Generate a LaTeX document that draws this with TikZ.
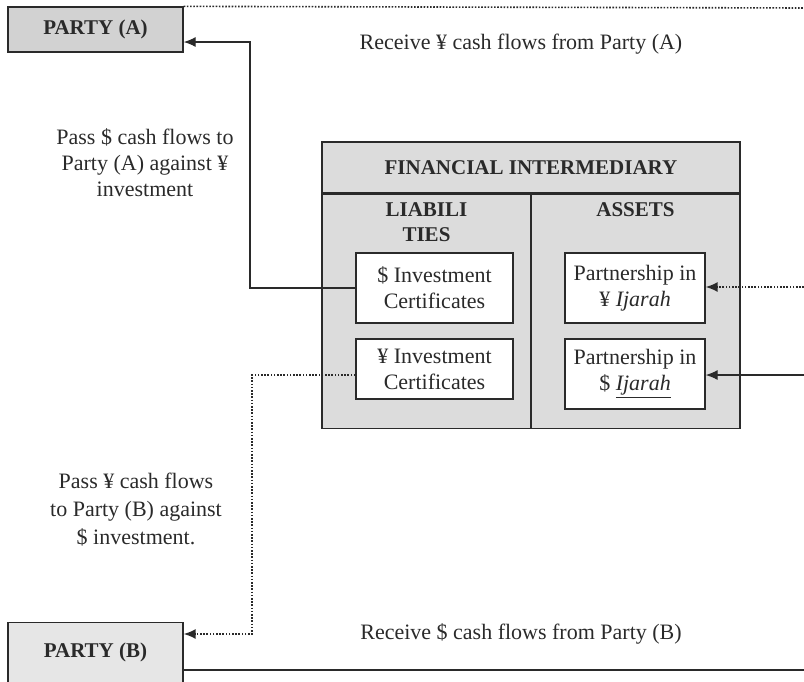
\documentclass[tikz,border=0pt]{standalone}
\usepackage{fontspec}
\setmainfont{Liberation Serif}
\usetikzlibrary{positioning,arrows.meta}
\definecolor{partyagray}{HTML}{D2D2D2}
\definecolor{partybgray}{HTML}{E6E6E6}
\definecolor{figray}{HTML}{DCDCDC}
\definecolor{linegray}{HTML}{2A2A2A}

\begin{document}
\begin{tikzpicture}[%
    x=0.5pt,y=-0.5pt,->,>={Latex[length=6pt,width=5pt]},line width=0.65pt,color=linegray,
    party/.style={%
      draw,minimum width=87.5pt,inner sep=0pt,font=\fontsize{10.5}{12}\selectfont\bfseries},
    fibox/.style={draw,fill=figray,inner sep=0pt},
    inbox/.style={%
      draw,fill=white,align=center,inner sep=0pt,font=\fontsize{11}{13}\selectfont},
    txt/.style={align=center,font=\fontsize{11}{13}\selectfont},
    head/.style={align=center,font=\fontsize{10.5}{12.5}\selectfont\bfseries},
    dots/.style={line width=0.8pt,dash pattern=on 0.8pt off 0.8pt}
  ]
    \useasboundingbox (0,0) rectangle (804,681);

    % parties
    \node[party,fill=partyagray,minimum height=22.5pt] (partyA) at (95.5,29.5) {PARTY (A)};
    \node[party,fill=partybgray,anchor=north,text height=17.5pt,text depth=14.5pt]
      (partyB) at (95.5,622) {PARTY (B)};

    % financial intermediary
    \node[fibox,head,minimum width=209pt,minimum height=25.5pt] (fihead) at (531,167.5)
      {FINANCIAL INTERMEDIARY};
    \node[fibox,minimum width=104.5pt,minimum height=117pt,anchor=north west] (liab)
      at (fihead.south west) {};
    \node[fibox,minimum width=104.5pt,minimum height=117pt,anchor=north east] (assets)
      at (fihead.south east) {};
    \node[head] (liabtitle) at (426.5,222.5) {LIABILI\\TIES};
    \node[head] (assetstitle) at (635.5,210) {ASSETS};

    \node[inbox,minimum width=78.5pt,minimum height=35pt] (usdcert) at (434.5,288)
      {\$ Investment\\Certificates};
    \node[inbox,minimum width=78.5pt,minimum height=30pt] (jpycert) at (434.5,369)
      {¥ Investment\\Certificates};
    \node[inbox,minimum width=70pt,minimum height=35pt] (jpyijarah) at (635,288)
      {Partnership in\\¥ \textit{Ijarah}};
    \node[inbox,minimum width=70pt,minimum height=35pt] (usdijarah) at (635,374)
      {Partnership in\\\$ \underline{\textit{Ijarah}}};

    % labels
    \node[txt] (recvA) at (521,44) {Receive ¥ cash flows from Party (A)};
    \node[txt] (recvB) at (521,634) {Receive \$ cash flows from Party (B)};
    \node[txt] (passA) at (145,163) {Pass \$ cash flows to\\Party (A) against ¥\\investment};
    \node[txt,font=\fontsize{11}{14}\selectfont] (passB) at (136,510)
      {Pass ¥ cash flows\\to Party (B) against\\\$ investment.};

    \coordinate (railA) at (250,0);
    \coordinate (railB) at (252,0);
    \coordinate (topend) at (804,8);
    \coordinate (botend) at (804,670);
    \coordinate (jpyin) at (804,287);
    \coordinate (usdin) at (804,375);

    % flows
    \draw (usdcert.west) -- (usdcert.west -| railA) |- ([yshift=-6.25pt]partyA.east);
    \draw[dots] ([yshift=-3pt]jpycert.west) -- ([yshift=-3pt]jpycert.west -| railB)
      |- ([yshift=-6pt]partyB.north east);
    \draw[dots] (jpyin) -- (jpyin -| jpyijarah.east);
    \draw (usdin) -- (usdin -| usdijarah.east);
    \draw[-,dots] (partyA.north east) -- (topend);
    \draw[-] ([yshift=-24pt]partyB.north east) -- (botend);
\end{tikzpicture}
\end{document}
